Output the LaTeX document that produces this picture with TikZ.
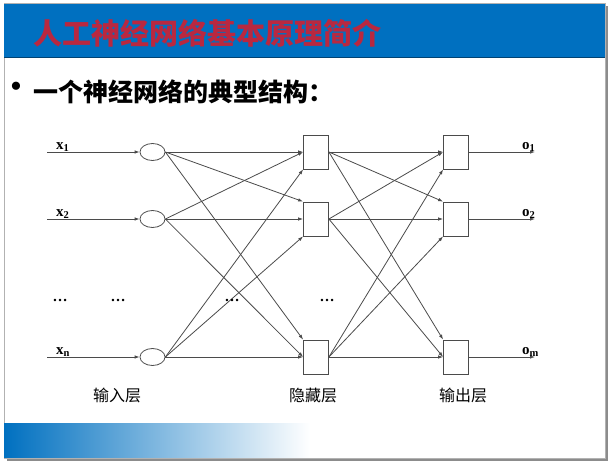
\documentclass[tikz,border=0pt]{standalone}
\usepackage{fontspec}
\setmainfont{Liberation Serif}
\newfontfamily\cjk{Noto Sans CJK SC}
\usetikzlibrary{shapes.geometric,arrows.meta}
\definecolor{titleblue}{RGB}{0,112,192}
\definecolor{titlered}{RGB}{185,40,64}
\definecolor{wire}{RGB}{75,75,75}

\tikzset{
  neuron/.style={ellipse, draw=wire, line width=0.8pt, minimum width=25pt, minimum height=17pt, inner sep=0pt},
  unit/.style={rectangle, draw=wire, line width=0.8pt, minimum width=25pt, minimum height=34pt, inner sep=0pt},
  conn/.style={->, wire, line width=0.8pt},
  varlabel/.style={font=\bfseries\fontsize{15}{15}\selectfont, inner sep=0pt, anchor=base west},
  layername/.style={font=\cjk\fontsize{16}{16}\selectfont},
  dotsmark/.style={font=\bfseries\fontsize{15}{15}\selectfont}
}

\begin{document}
\begin{tikzpicture}[x=1pt, y=1pt, >={Latex[length=5pt,width=3.5pt]}]
	\useasboundingbox (0,0) rectangle (613,-463);
	% slide and shadow
	\fill[black!45] (7,-6) rectangle (608,-461);
	\draw[black!30, fill=white] (4,-3) rectangle (605,-458);
	
	% title bar
	\fill[titleblue] (4,-4) rectangle (605,-57);
	\draw[titleblue!60!black] (4,-57) -- (605,-57);
	\node[anchor=west, inner sep=0pt, text=titlered, font=\cjk\bfseries\fontsize{29}{29}\selectfont] (title) at (33,-33) {人工神经网络基本原理简介};
	
	% bottom bar
	\shade[left color=titleblue, middle color=titleblue!55, right color=white] (4,-423) rectangle (310,-457);
	
	% bullet line
	\node[font=\fontsize{34}{34}\selectfont, inner sep=0pt] (dot) at (16,-90) {•};
	\node[anchor=west, inner sep=0pt, font=\cjk\bfseries\fontsize{25}{25}\selectfont] (head) at (33,-92) {一个神经网络的典型结构：};
	
	% layers
	\foreach \k/\y in {1/152, 2/219, 3/357}{
		\node[neuron] (i\k) at (152.5,-\y) {};
		\node[unit] (h\k) at (316,-\y) {};
		\node[unit] (o\k) at (456,-\y) {};
		\coordinate (in\k) at (47,-\y);
		\coordinate (out\k) at (535,-\y);
		\draw[conn] (in\k) -- (i\k);
		\draw[conn] (o\k) -- (out\k);
	}
	
	% connections
	\foreach \s/\t/\a in {1/1/west, 2/1/west, 3/1/south west, 1/2/north west, 2/2/west, 3/2/south west, 1/3/north west, 2/3/west, 3/3/west}{
		\draw[conn] (i\s.east) -- (h\t.\a);
		\draw[conn] (h\s.east) -- (o\t.\a);
	}
	
	% variable labels
	\node[varlabel] (x1) at (56,-149) {x\textsubscript{1}};
	\node[varlabel] (x2) at (56,-216) {x\textsubscript{2}};
	\node[varlabel] (xn) at (56,-354) {x\textsubscript{n}};
	\node[varlabel] (o1lab) at (522,-149) {o\textsubscript{1}};
	\node[varlabel] (o2lab) at (522,-216) {o\textsubscript{2}};
	\node[varlabel] (omlab) at (522,-354) {o\textsubscript{m}};
	
	% dots
	\foreach \x [count=\j] in {60, 118, 232, 327}
	\node[dotsmark] (dots\j) at (\x,-300) {\dots};
	
	% layer names
	\node[layername] (inname) at (117,-395) {输入层};
	\node[layername] (hidname) at (313,-395) {隐藏层};
	\node[layername] (outname) at (463,-395) {输出层};
\end{tikzpicture}
\end{document}
